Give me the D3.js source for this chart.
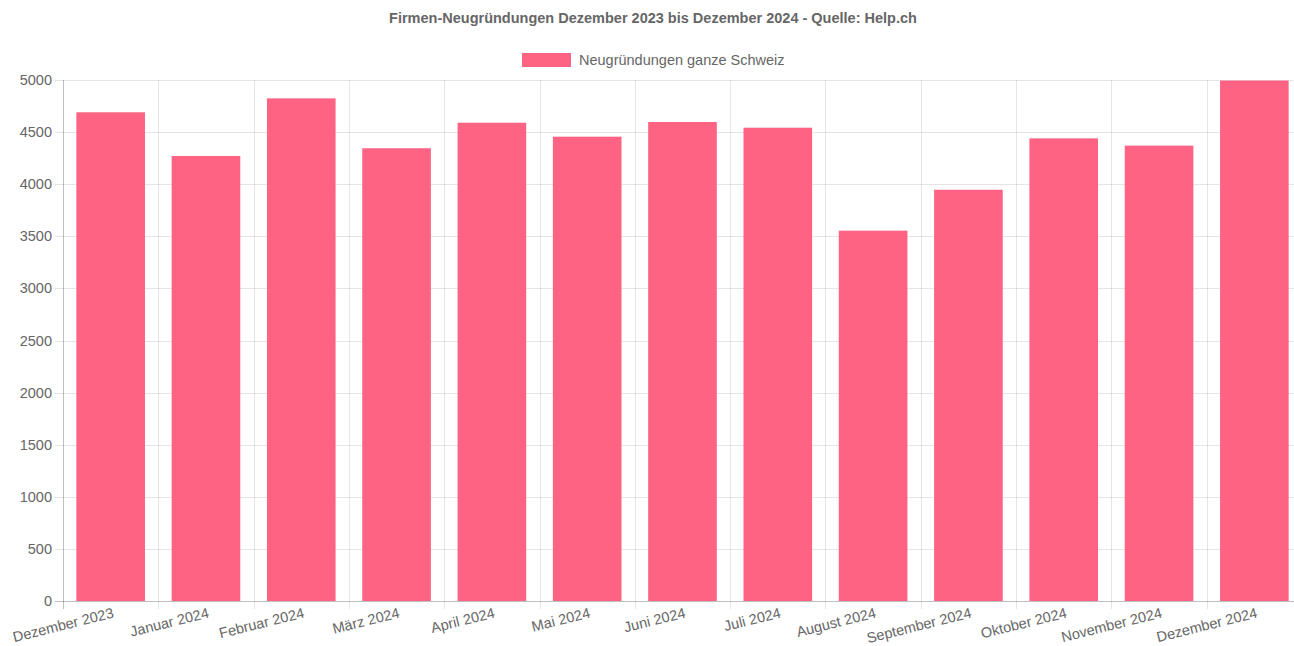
<!DOCTYPE html>
<html>
<head>
<meta charset="utf-8">
<script src="https://cdn.jsdelivr.net/npm/d3@7"></script>
<style>
  body { margin: 0; background: #fff; }
  text { font-family: "Liberation Sans", Arial, sans-serif; }
</style>
</head>
<body>
<div id="chart"></div>
<script>
// Data
const months = ["Dezember 2023", "Januar 2024", "Februar 2024", "März 2024", "April 2024", "Mai 2024",
    "Juni 2024", "Juli 2024", "August 2024", "September 2024", "Oktober 2024", "November 2024", "Dezember 2024"];
const neugruendungen = [4690, 4271, 4824, 4345, 4590, 4456, 4597, 4542, 3554, 3947, 4440, 4370, 4995];
const yTicks = [0, 500, 1000, 1500, 2000, 2500, 3000, 3500, 4000, 4500, 5000];
const seriesName = "Neugründungen ganze Schweiz";
const chartTitle = "Firmen-Neugründungen Dezember 2023 bis Dezember 2024 - Quelle: Help.ch";

const width = 1294;
const height = 646;
const margin = { top: 80, right: -8, bottom: 45, left: 63 };
const barColor = "#ff6384";
const textColor = "#666";
const fontSize = 14.5;

const svg = d3.select("#chart")
    .append("svg")
    .attr("width", width)
    .attr("height", height);

const x = d3.scaleBand()
    .domain(months)
    .range([margin.left, width - margin.right])
    .paddingInner(0)
    .paddingOuter(0);

const y = d3.scaleLinear()
    .domain([0, 5000])
    .range([height - margin.bottom, margin.top]);

// Horizontal grid lines
svg.append("g")
    .selectAll("line")
    .data(yTicks)
    .enter()
    .append("line")
    .attr("x1", margin.left - 8)
    .attr("x2", width - margin.right)
    .attr("y1", d => Math.round(y(d)) + 0.5)
    .attr("y2", d => Math.round(y(d)) + 0.5)
    .attr("stroke", d => d === 0 ? "rgba(0,0,0,0.25)" : "rgba(0,0,0,0.1)");

// Vertical grid lines at band edges
const edges = months.map(m => x(m));
svg.append("g")
    .selectAll("line")
    .data(edges)
    .enter()
    .append("line")
    .attr("x1", d => Math.round(d) + 0.5)
    .attr("x2", d => Math.round(d) + 0.5)
    .attr("y1", margin.top)
    .attr("y2", height - margin.bottom + 8)
    .attr("stroke", (d, i) => i === 0 ? "rgba(0,0,0,0.25)" : "rgba(0,0,0,0.1)");

// Bars
const barW = x.bandwidth() * 0.72;
svg.append("g")
    .selectAll("rect")
    .data(months)
    .enter()
    .append("rect")
    .attr("x", (d, i) => x(d) + (x.bandwidth() - barW) / 2)
    .attr("y", (d, i) => y(neugruendungen[i]))
    .attr("width", barW)
    .attr("height", (d, i) => y(0) - y(neugruendungen[i]))
    .attr("fill", barColor);

// Y tick labels
svg.append("g")
    .selectAll("text")
    .data(yTicks)
    .enter()
    .append("text")
    .attr("x", margin.left - 11)
    .attr("y", d => y(d))
    .attr("dy", "0.35em")
    .attr("text-anchor", "end")
    .attr("font-size", fontSize)
    .attr("fill", textColor)
    .text(d => d);

// X tick labels, rotated
svg.append("g")
    .selectAll("text")
    .data(months)
    .enter()
    .append("text")
    .attr("transform", d => `translate(${x(d) + x.bandwidth() / 2 + 1}, ${height - margin.bottom + 5}) rotate(-14)`)
    .attr("text-anchor", "end")
    .attr("dy", "0.8em")
    .attr("font-size", fontSize)
    .attr("fill", textColor)
    .text(d => d);

// Title
svg.append("text")
    .attr("x", 653)
    .attr("y", 23)
    .attr("text-anchor", "middle")
    .attr("font-size", fontSize)
    .attr("font-weight", "bold")
    .attr("fill", textColor)
    .text(chartTitle);

// Legend
const legend = svg.append("g")
    .attr("transform", "translate(522, 53)");

legend.append("rect")
    .attr("width", 49)
    .attr("height", 14)
    .attr("fill", barColor);

legend.append("text")
    .attr("x", 57)
    .attr("y", 7)
    .attr("dy", "0.35em")
    .attr("font-size", fontSize)
    .attr("fill", textColor)
    .text(seriesName);
</script>
</body>
</html>
